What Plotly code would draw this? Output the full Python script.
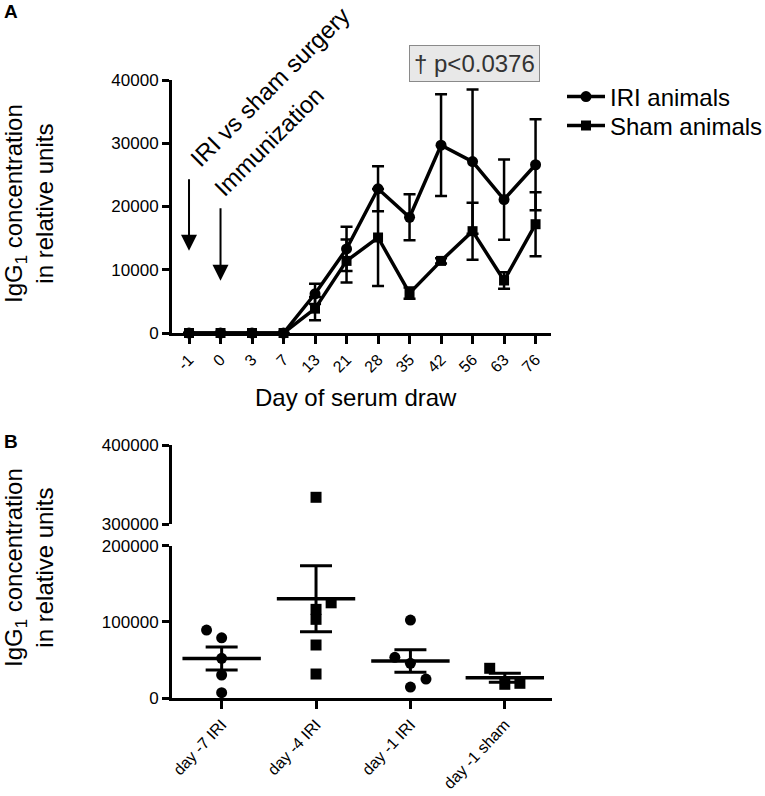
import plotly.graph_objects as go

# ---------------- data ----------------
DAYS = ["-1", "0", "3", "7", "13", "21", "28", "35", "42", "56", "63", "76"]
IRI_MEAN = [0, 0, 0, 0, 6200, 13300, 22800, 18300, 29700, 27100, 21100, 26600]
IRI_SEM = [None, None, None, None, 1600, 3500, 3550, 3650, 8050, 11400, 6350, 7200]
SHAM_MEAN = [0, 0, 0, 0, 3850, 11400, 15100, 6300, 11400, 16100, 8300, 17200]
SHAM_SEM = [None, None, None, None, 1850, 3400, 7650, 900, 400, 4500, 1300, 5050]
A_YTICKS = [0, 10000, 20000, 30000, 40000]

B_GROUPS = ["day -7 IRI", "day -4 IRI", "day -1 IRI", "day -1 sham"]
B_VALUES = [
    [89200, 79100, 52100, 30200, 7000],
    [333800, 125000, 116400, 103300, 69600, 31500],
    [102400, 53400, 45500, 24900, 14400],
    [39000, 18000, 19300],
]
B_MEAN = [51900, 130300, 48600, 26700]
B_SEM = [15000, 43300, 14900, 5900]
B_LOW_TICKS = [0, 100000, 200000]
B_HIGH_TICKS = [300000, 400000]
B_BREAK = 300000

# styling (not data)
B_JITTER = [
    [-0.16, 0, 0, 0, 0],
    [0, 0.16, 0, 0, 0, 0],
    [0, -0.165, 0, 0.165, 0],
    [-0.16, 0, 0.16],
]
B_SYMBOLS = ["circle", "square", "circle", "square"]

W, H = 765, 796
FONT = "Liberation Sans, Arial, Helvetica, sans-serif"


def fx(a):
    return a / W


def fy(a):
    return 1 - a / H


def px_x(a, b):
    return [fx(a), fx(b)]


def px_y(top, bottom):
    return [fy(bottom), fy(top)]


def axis(**kw):
    base = dict(
        showline=True, linecolor="black", linewidth=3,
        ticks="outside", tickcolor="black", tickwidth=3,
        showgrid=False, zeroline=False, automargin=False,
        tickfont=dict(family=FONT, size=17, color="black"),
    )
    base.update(kw)
    return base


fig = go.Figure()

# ---------------- panel A ----------------
fig.add_trace(go.Scatter(
    x=DAYS, y=SHAM_MEAN, name="Sham animals", mode="lines+markers",
    line=dict(color="black", width=3.5),
    marker=dict(symbol="square", size=10, color="black"),
    error_y=dict(type="data", array=SHAM_SEM, color="black", thickness=2.5, width=6),
    xaxis="x", yaxis="y", cliponaxis=False, legend="legend2",
))
fig.add_trace(go.Scatter(
    x=DAYS, y=IRI_MEAN, name="IRI animals", mode="lines+markers",
    line=dict(color="black", width=3.5),
    marker=dict(symbol="circle", size=11, color="black"),
    error_y=dict(type="data", array=IRI_SEM, color="black", thickness=2.5, width=6),
    xaxis="x", yaxis="y", cliponaxis=False, legend="legend",
))

# ---------------- panel B ----------------
for i, (grp, vals) in enumerate(zip(B_GROUPS, B_VALUES)):
    xs = [i + j for j in B_JITTER[i]]
    lo_x = [x for x, v in zip(xs, vals) if v < B_BREAK]
    lo_y = [v for v in vals if v < B_BREAK]
    hi_x = [x for x, v in zip(xs, vals) if v >= B_BREAK]
    hi_y = [v for v in vals if v >= B_BREAK]
    fig.add_trace(go.Scatter(
        x=lo_x, y=lo_y, mode="markers", showlegend=False,
        marker=dict(symbol=B_SYMBOLS[i], size=11, color="black"),
        xaxis="x2", yaxis="y2", cliponaxis=False,
    ))
    if hi_y:
        fig.add_trace(go.Scatter(
            x=hi_x, y=hi_y, mode="markers", showlegend=False,
            marker=dict(symbol=B_SYMBOLS[i], size=11, color="black"),
            xaxis="x2", yaxis="y3", cliponaxis=False,
        ))

fig.add_trace(go.Scatter(
    x=list(range(len(B_GROUPS))), y=B_MEAN, mode="markers", showlegend=False,
    marker=dict(symbol="line-ew", size=56, color="black",
                line=dict(color="black", width=3.5)),
    error_y=dict(type="data", array=B_SEM, color="black", thickness=3, width=16),
    xaxis="x2", yaxis="y2", cliponaxis=False,
))

legend_common = dict(xanchor="left", yanchor="middle",
                     font=dict(family=FONT, size=24, color="black"),
                     bgcolor="rgba(0,0,0,0)", itemwidth=38, borderwidth=0)

fig.update_layout(
    width=W, height=H, autosize=False,
    margin=dict(l=0, r=0, t=0, b=0, autoexpand=False),
    paper_bgcolor="white", plot_bgcolor="white",
    font=dict(family=FONT, color="black"),
    xaxis=axis(type="category", domain=px_x(172, 551),
               range=[-0.54, 11.49], anchor="y", ticklen=8, tickangle=-45,
               tickfont=dict(family=FONT, size=16, color="black")),
    yaxis=axis(domain=px_y(80, 333), range=[0, 40000], anchor="x",
               tickvals=A_YTICKS, tickformat="d", ticklen=7),
    xaxis2=axis(type="linear", domain=px_x(172, 552),
                range=[-0.526, 3.5], anchor="y2", ticklen=8, tickangle=-47,
                tickvals=list(range(len(B_GROUPS))), ticktext=B_GROUPS,
                tickfont=dict(family=FONT, size=16, color="black")),
    yaxis2=axis(domain=px_y(545.7, 698), range=[0, 200000],
                anchor="x2", tickvals=B_LOW_TICKS, tickformat="d", ticklen=7),
    yaxis3=axis(domain=px_y(445, 524), range=[300000, 400000],
                anchor="x2", tickvals=B_HIGH_TICKS, tickformat="d", ticklen=7),
    legend=dict(x=fx(562), y=fy(97), **legend_common),
    legend2=dict(x=fx(562), y=fy(126), **legend_common),
)

ann = []


def note(text, x, y, size, **kw):
    d = dict(text=text, x=fx(x), y=fy(y), xref="paper", yref="paper",
             xanchor="center", yanchor="middle", showarrow=False,
             font=dict(size=size, family=FONT, color=kw.pop("color", "black")))
    d.update(kw)
    ann.append(d)


# panel labels
note("<b>A</b>", 11, 12, 19)
note("<b>B</b>", 11, 441, 19)
# y titles
for cy in (204, 568):
    note("IgG<sub>1</sub> concentration<br>in relative units", 29, cy, 24, textangle=-90)
# x title A
note("Day of serum draw", 356, 397, 24)
# rotated labels
note("IRI vs sham surgery", 269, 87, 24, textangle=-45)
note("Immunization", 269, 142, 24, textangle=-45)
# p value box
note("† p<0.0376", 474, 63, 24, color="#333333", bgcolor="#e8e8e8",
     bordercolor="#8a8a8a", borderwidth=1, borderpad=4)

# arrows (category index positions)
ann.append(dict(text="", x=DAYS.index("-1"), y=13000, xref="x", yref="y", ax=0, ay=-73,
                showarrow=True, arrowhead=2, arrowsize=1.6, arrowwidth=2,
                arrowcolor="black", standoff=0))
ann.append(dict(text="", x=DAYS.index("0"), y=8270, xref="x", yref="y", ax=0, ay=-74,
                showarrow=True, arrowhead=2, arrowsize=1.6, arrowwidth=2,
                arrowcolor="black", standoff=0))
fig.update_layout(annotations=ann)

# remove the page's default body margin so the figure sits at the page origin
fig.write_html("out.html",
               config={"displayModeBar": False},
               post_script="document.body.style.margin='0';"
                           "document.body.style.overflow='hidden';")
